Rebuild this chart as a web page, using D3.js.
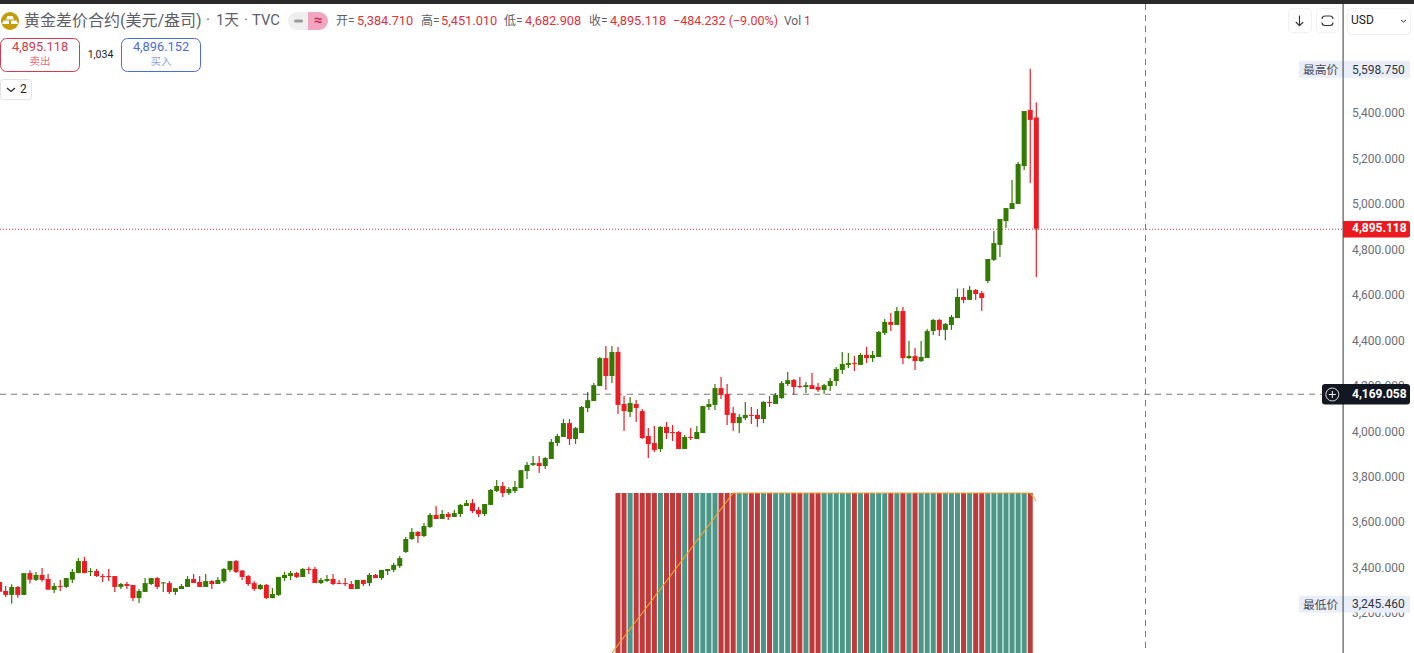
<!DOCTYPE html>
<html><head><meta charset="utf-8">
<script src="https://cdnjs.cloudflare.com/ajax/libs/d3/7.8.5/d3.min.js"></script>
<style>html,body{margin:0;padding:0;background:#fff;overflow:hidden}svg{display:block}text{font-family:Roboto,"Noto Sans CJK SC",sans-serif}</style>
</head><body><svg id="c" width="1414" height="653"></svg>
<script>
const opens=[3341,3301,3284,3319,3284,3380,3350,3372,3354,3306,
3323,3319,3351,3380,3433,3385,3389,3367,3367,3367,
3319,3332,3328,3270,3297,3332,3358,3336,3336,3297,
3310,3319,3354,3341,3319,3345,3332,3344,3394,3433,
3391,3367,3336,3310,3328,3270,3284,3358,3367,3380,
3363,3398,3398,3336,3345,3354,3336,3336,3332,3310,
3350,3336,3372,3358,3389,3394,3411,3473,3530,3561,
3543,3583,3636,3618,3640,3627,3640,3675,3688,3658,
3640,3680,3741,3763,3732,3741,3754,3829,3856,3864,
3851,3882,3952,3979,4040,3970,3996,4106,4137,4203,
4326,4247,4353,4124,4089,4124,4093,3983,3952,3926,
4023,4001,4001,3926,3979,3970,3996,4111,4120,4194,
4168,4084,4040,4062,4076,4076,4058,4133,4124,4150,
4212,4230,4203,4199,4207,4199,4186,4203,4225,4274,
4296,4304,4296,4340,4326,4331,4436,4485,4472,4533,
4326,4335,4313,4326,4445,4494,4450,4472,4502,4595,
4582,4626,4612,4665,4758,4824,4929,4982,5004,5171,5418,5384.71];
const highs=[3341,3323,3331,3323,3380,3392,3385,3402,3376,3336,
3350,3358,3398,3446,3451,3402,3398,3376,3398,3367,
3336,3341,3328,3310,3358,3358,3363,3341,3345,3314,
3332,3367,3376,3367,3376,3350,3363,3402,3433,3438,
3394,3372,3345,3332,3332,3314,3363,3385,3389,3385,
3402,3407,3407,3358,3372,3376,3350,3358,3345,3350,
3350,3380,3376,3394,3398,3424,3455,3539,3578,3565,
3600,3644,3675,3658,3649,3658,3684,3702,3706,3671,
3684,3750,3790,3781,3759,3785,3833,3869,3895,3895,
3891,3970,3992,4058,4058,4023,4115,4177,4216,4331,
4379,4379,4375,4159,4155,4142,4102,4018,4027,4027,
4045,4032,4005,3988,4018,4027,4115,4146,4212,4243,
4212,4111,4080,4133,4111,4102,4137,4159,4172,4225,
4265,4234,4243,4221,4260,4216,4212,4238,4287,4353,
4348,4335,4348,4375,4357,4445,4498,4524,4551,4551,
4401,4370,4401,4454,4498,4498,4480,4516,4632,4634,
4643,4630,4621,4762,4885,4938,4986,5110,5189,5413,5598.75,5451.01];
const lows=[3298,3275,3245.46,3272,3284,3334,3345,3342,3307,3292,
3301,3314,3336,3380,3380,3367,3363,3341,3345,3297,
3310,3310,3257,3248,3297,3328,3310,3297,3288,3284,
3310,3319,3336,3319,3319,3310,3332,3336,3385,3380,
3350,3323,3301,3306,3266,3270,3279,3345,3350,3358,
3363,3376,3336,3332,3341,3328,3332,3323,3310,3310,
3323,3323,3358,3350,3372,3385,3402,3468,3526,3512,
3539,3578,3618,3618,3614,3627,3627,3675,3644,3627,
3631,3680,3737,3715,3724,3732,3754,3794,3851,3820,
3838,3882,3939,3979,3944,3948,3996,4089,4137,4203,
4186,4216,4080,4005,4067,4045,3970,3886,3913,3913,
3970,3961,3926,3926,3966,3970,3996,4098,4098,4146,
4032,4005,3996,4054,4036,4023,4040,4111,4124,4146,
4203,4164,4194,4172,4190,4177,4168,4181,4203,4256,
4282,4269,4296,4304,4309,4331,4428,4445,4472,4300,
4322,4274,4309,4326,4428,4423,4406,4450,4502,4568,
4582,4582,4533,4656,4753,4771,4898,4982,5004,5154,5096,4682.908];
const closes=[3298,3284,3319,3284,3380,3351,3372,3350,3307,3323,
3320,3358,3385,3433,3380,3389,3367,3364,3364,3319,
3332,3323,3270,3301,3336,3358,3319,3339,3297,3314,
3323,3354,3336,3319,3345,3332,3350,3398,3433,3385,
3363,3332,3310,3328,3270,3288,3363,3372,3380,3363,
3398,3395,3336,3350,3354,3332,3333,3333,3310,3350,
3332,3372,3358,3394,3398,3416,3446,3530,3561,3543,
3587,3636,3618,3640,3627,3644,3680,3688,3653,3640,
3684,3746,3763,3732,3750,3759,3833,3856,3864,3851,
3886,3957,3983,4040,3970,4018,4111,4141,4207,4326,
4247,4353,4120,4093,4128,4106,3974,3948,3922,4023,
3996,3998,3926,3979,3976,4001,4115,4124,4194,4164,
4076,4040,4067,4076,4073,4058,4133,4130,4164,4216,
4229,4199,4200,4207,4190,4186,4207,4225,4278,4300,
4304,4301,4340,4326,4340,4441,4485,4472,4533,4326,
4335,4313,4331,4445,4494,4450,4476,4507,4595,4582,
4626,4608,4590,4762,4832,4938,4986,5008,5180,5413,5374,4895.118];
// volume pane: first candle index that has a bar, bar volumes, then the volume average line read point by point
const volumeStart=102;
const volumes=[1,1,1,1,1,1,1,1,1,1,1,1,1,1,1,1,1,1,1,1,1,1,1,1,1,1,1,1,1,1,1,1,1,1,1,
1,1,1,1,1,1,1,1,1,1,1,1,1,1,1,1,1,1,1,1,1,1,1,1,1,1,1,1,1,1,1,1,1,1];
const volMaStart=101;
const volMa=[0,.05,.1,.15,.2,.25,.3,.35,.4,.45,.5,.55,.6,.65,.7,.75,.8,.85,.9,.95,1,
1,1,1,1,1,1,1,1,1,1,1,1,1,1,1,1,1,1,1,1,1,1,1,1,1,1,1,1,1,
1,1,1,1,1,1,1,1,1,1,1,1,1,1,1,1,1,1,1,1,.95];
const priceTicks=[3200,3400,3600,3800,4000,4200,4400,4600,4800,5000,5200,5400];
const lastPrice=4895.118, crossPrice=4169.058, maxPrice=5598.75, minPrice=3245.46;
const legendOHLC=[["开=","5,384.710",336,357],["高=","5,451.010",421,441],["低=","4,682.908",504,525],["收=","4,895.118",589,610]];

const W=1414,H=653,axisX=1343;
const svg=d3.select("#c");
const x=d3.scaleLinear().domain([0,171]).range([-0.4,1036.3]);
const y=d3.scaleLinear().domain([3200,5400]).range([614,114]);
const yv=d3.scaleLinear().domain([0,1]).range([653,493]);
const UP="#337a00",DOWN="#ea1c24",VUP="#4c9688",VDOWN="#bf3a3a",TXT="#5d606b",RED="#e0303a";

// volume bars
svg.append("g").selectAll("rect").data(volumes).join("rect")
 .attr("x",(d,i)=>x(i+volumeStart)-2.5).attr("width",5)
 .attr("y",d=>yv(d)).attr("height",d=>yv(0)-yv(d))
 .attr("fill",(d,i)=>closes[i+volumeStart]>=opens[i+volumeStart]?VUP:VDOWN);
svg.append("path").datum(volMa)
 .attr("d",d3.line().x((d,i)=>x(i+volMaStart)).y(d=>yv(d)))
 .attr("fill","none").attr("stroke","#f2a62c").attr("stroke-width",1.2);

// guide lines
svg.append("line").attr("x1",0).attr("x2",axisX).attr("y1",y(lastPrice)+.5).attr("y2",y(lastPrice)+.5)
 .attr("stroke","#d8324a").attr("stroke-dasharray","1 2");
svg.append("line").attr("x1",0).attr("x2",1322).attr("y1",y(crossPrice)+.5).attr("y2",y(crossPrice)+.5)
 .attr("stroke","#7a7a7a").attr("stroke-dasharray","6 5");
svg.append("line").attr("x1",1145.5).attr("x2",1145.5).attr("y1",4).attr("y2",650)
 .attr("stroke","#7a7a7a").attr("stroke-dasharray","6 5");

// candles
const idx=d3.range(opens.length);
const cg=svg.append("g");
cg.selectAll("line").data(idx).join("line")
 .attr("x1",i=>x(i)).attr("x2",i=>x(i)).attr("y1",i=>y(highs[i])).attr("y2",i=>y(lows[i]))
 .attr("stroke",i=>closes[i]>=opens[i]?UP:DOWN).attr("stroke-width",1.2);
cg.selectAll("rect").data(idx).join("rect")
 .attr("x",i=>x(i)-2.5).attr("width",5)
 .attr("y",i=>y(Math.max(opens[i],closes[i])))
 .attr("height",i=>Math.max(1,Math.abs(y(opens[i])-y(closes[i]))))
 .attr("fill",i=>closes[i]>=opens[i]?UP:DOWN);

// price axis
const fmt=d3.format(",.3f");
svg.append("rect").attr("x",axisX).attr("y",0).attr("width",W-axisX).attr("height",H).attr("fill","#fff");
const ax=svg.append("g").attr("transform",`translate(${axisX},-1)`)
 .call(d3.axisRight(y).tickValues(priceTicks).tickFormat(fmt).tickSize(0).tickPadding(9));
ax.select(".domain").remove();
ax.selectAll("text").attr("font-size",12).attr("font-family","Roboto").attr("fill","#6a6d78");
svg.append("rect").attr("x",axisX-.5).attr("y",4).attr("width",1.2).attr("height",H).attr("fill","#55585f");

function hiLo(val,lab){
 const c=y(val)+.5;
 svg.append("rect").attr("x",1299).attr("y",c-8.5).attr("width",111).attr("height",17).attr("fill","#e9eefa");
 svg.append("rect").attr("x",axisX-.5).attr("y",c-8.5).attr("width",1.2).attr("height",17).attr("fill","#55585f");
 svg.append("text").attr("x",1303).attr("y",c+1.5).attr("dominant-baseline","middle").attr("font-size",11.8).attr("fill","#4a4d55").text(lab);
 svg.append("text").attr("x",1352).attr("y",c+1).attr("dominant-baseline","middle").attr("font-size",12).attr("fill","#33363d").text(fmt(val));
}
hiLo(maxPrice,"最高价");hiLo(minPrice,"最低价");

// last price tag
svg.append("path").attr("d",`M${axisX},221h65a2,2 0 0 1 2,2v12.5a2,2 0 0 1 -2,2h-65z`).attr("fill","#ec1a1f");
svg.append("text").attr("x",1352).attr("y",229).attr("dominant-baseline","middle").attr("font-size",12).attr("font-weight",700).attr("fill","#fff").text(fmt(lastPrice));
// crosshair tag
svg.append("rect").attr("x",1322).attr("y",384).attr("width",88).attr("height",20.5).attr("rx",3).attr("fill","#131722");
svg.append("circle").attr("cx",1332.3).attr("cy",394.5).attr("r",6.5).attr("fill","none").attr("stroke","#d8d8dc").attr("stroke-width",1);
svg.append("path").attr("d","M1328.8,394.5h7M1332.3,391v7").attr("stroke","#fff").attr("stroke-width",1);
svg.append("text").attr("x",1352).attr("y",394.5).attr("dominant-baseline","middle").attr("font-size",12).attr("font-weight",700).attr("fill","#fff").text(fmt(crossPrice));

// top bar
svg.append("rect").attr("width",W).attr("height",4).attr("fill","#2a2a2a");

// legend
const icon=svg.append("g").attr("transform","translate(10,21)");
icon.append("circle").attr("r",9).attr("fill","#c59a0c");
icon.append("path").attr("d","M-2.5,-5h5l1.5,3.5h-8zM-6.5,-.5h5.5l0,3.5h-7zM1,-.5h5.5l1.5,3.5h-7z").attr("fill","#fff");
svg.append("text").attr("x",24).attr("y",21.5).attr("dominant-baseline","middle").attr("font-size",16).attr("fill",TXT).text("黄金差价合约(美元/盎司)");
[["·",206],["1天",216],["·",244],["TVC",252]].forEach(([s,a])=>svg.append("text").attr("x",a).attr("y",21.5).attr("dominant-baseline","middle").attr("font-size",14.8).attr("fill",TXT).text(s));
svg.append("path").attr("d","M308,12h-11a9,9 0 0 0 0,18h11z").attr("fill","#efefef");
svg.append("path").attr("d","M308,12h11a9,9 0 0 1 0,18h-11z").attr("fill","#f0a6c0");
svg.append("rect").attr("x",294).attr("y",19.5).attr("width",9).attr("height",3).attr("rx",1.5).attr("fill","#9a9a9a");
svg.append("text").attr("x",318).attr("y",21.5).attr("text-anchor","middle").attr("dominant-baseline","middle").attr("font-size",15).attr("font-weight",700).attr("fill","#d0285a").text("≈");
legendOHLC.forEach(([a,b,x1,x2])=>{
 svg.append("text").attr("x",x1).attr("y",21.5).attr("dominant-baseline","middle").attr("font-size",12).attr("fill",TXT).text(a);
 svg.append("text").attr("x",x2).attr("y",21.5).attr("dominant-baseline","middle").attr("font-size",12.8).attr("fill",RED).text(b);
});
svg.append("text").attr("x",673).attr("y",21.5).attr("dominant-baseline","middle").attr("font-size",12.5).attr("fill",RED).text("−484.232 (−9.00%)");
svg.append("text").attr("x",784).attr("y",21.5).attr("dominant-baseline","middle").attr("font-size",12).attr("fill",TXT).text("Vol");
svg.append("text").attr("x",804).attr("y",21.5).attr("dominant-baseline","middle").attr("font-size",12).attr("fill",RED).text("1");

function box(x0,w,col,soft,v,l){
 svg.append("rect").attr("x",x0+.5).attr("y",38.5).attr("width",w-1).attr("height",33).attr("rx",6).attr("fill","#fff").attr("stroke",col);
 svg.append("text").attr("x",x0+w/2).attr("y",48).attr("text-anchor","middle").attr("dominant-baseline","middle").attr("font-size",12.8).attr("fill",col).text(v);
 svg.append("text").attr("x",x0+w/2).attr("y",62).attr("text-anchor","middle").attr("dominant-baseline","middle").attr("font-size",10.5).attr("fill",soft).text(l);
}
box(0,80,"#d33a4c","#e2707e","4,895.118","卖出");
box(121,80,"#4a6cdc","#8c9fe8","4,896.152","买入");
svg.append("text").attr("x",100.5).attr("y",55).attr("text-anchor","middle").attr("dominant-baseline","middle").attr("font-size",10.5).attr("fill","#222").text("1,034");
svg.append("rect").attr("x",.5).attr("y",79.5).attr("width",31).attr("height",20).attr("rx",3).attr("fill","#fff").attr("stroke","#e2e2e2");
svg.append("path").attr("d","M7,88l4,3.5l4,-3.5").attr("fill","none").attr("stroke","#222").attr("stroke-width",1.1);
svg.append("text").attr("x",20).attr("y",90).attr("dominant-baseline","middle").attr("font-size",12).attr("fill","#222").text("2");

// top right controls
[[1288,23,26],[1316,22,26],[1347,63,26]].forEach(([a,w,h])=>svg.append("rect").attr("x",a+.5).attr("y",8.5).attr("width",w).attr("height",h-(a<1340?2:0)).attr("rx",4).attr("fill","#fff").attr("stroke","#f0f0f0"));
svg.append("path").attr("d","M1299.5,15.5v10M1295.8,22l3.7,3.7l3.7,-3.7").attr("fill","none").attr("stroke","#333").attr("stroke-width",1.1);
svg.append("rect").attr("x",1322).attr("y",16).attr("width",11).attr("height",9.5).attr("rx",3).attr("fill","none").attr("stroke","#333").attr("stroke-width",1.1);
svg.append("rect").attr("x",1320).attr("y",19).attr("width",15).attr("height",3.5).attr("fill","#fff");
svg.append("text").attr("x",1351).attr("y",21).attr("dominant-baseline","middle").attr("font-size",12).attr("fill","#222").text("USD");
svg.append("path").attr("d","M1401,20l2.5,2l2.5,-2").attr("fill","none").attr("stroke","#333").attr("stroke-width",1);
</script></body></html>
